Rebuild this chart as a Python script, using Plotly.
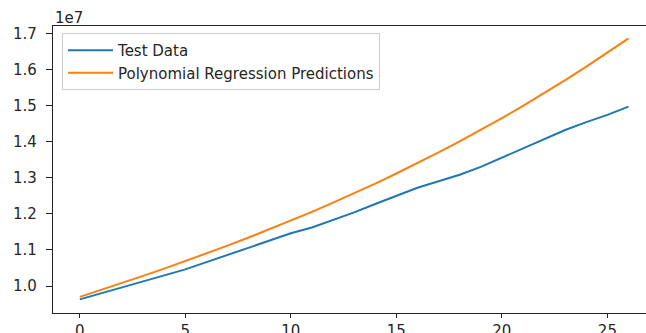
import plotly.graph_objects as go

# x positions (test sample index)
x_vals = list(range(27))

# Test Data (actual values)
test_data = [9.63e6, 9.80e6, 9.97e6, 10.12e6, 10.29e6, 10.46e6, 10.66e6, 10.86e6, 11.05e6,
             11.24e6, 11.46e6, 11.62e6, 11.82e6, 12.04e6, 12.27e6, 12.50e6, 12.72e6, 12.90e6,
             13.08e6, 13.30e6, 13.56e6, 13.82e6, 14.07e6, 14.32e6, 14.54e6, 14.74e6, 14.97e6]

# Polynomial Regression Predictions
poly_pred = [9.700e6, 9.889e6, 10.082e6, 10.279e6, 10.480e6, 10.687e6, 10.900e6, 11.118e6,
             11.342e6, 11.573e6, 11.810e6, 12.055e6, 12.308e6, 12.569e6, 12.838e6, 13.116e6,
             13.403e6, 13.700e6, 14.006e6, 14.323e6, 14.650e6, 14.989e6, 15.339e6, 15.701e6,
             16.075e6, 16.461e6, 16.860e6]

y_tick_vals = [1.0e7, 1.1e7, 1.2e7, 1.3e7, 1.4e7, 1.5e7, 1.6e7, 1.7e7]
y_tick_text = ["1.0", "1.1", "1.2", "1.3", "1.4", "1.5", "1.6", "1.7"]
x_tick_vals = [0, 5, 10, 15, 20, 25]

FONT = "DejaVu Sans"
AXIS = "#222222"
TXT = "#262626"

fig = go.Figure()
fig.add_trace(go.Scatter(x=x_vals, y=test_data, mode="lines", name="Test Data",
                         line=dict(color="#1f77b4", width=2)))
fig.add_trace(go.Scatter(x=x_vals, y=poly_pred, mode="lines",
                         name="Polynomial Regression Predictions",
                         line=dict(color="#ff7f0e", width=2)))

fig.update_layout(
    width=646, height=333,
    margin=dict(l=53, r=0, t=26, b=20),
    paper_bgcolor="white", plot_bgcolor="white",
    font=dict(family=FONT, size=15, color=TXT),
    showlegend=True,
    legend=dict(x=0.0152, y=0.9756, xanchor="left", yanchor="top",
                bgcolor="rgba(255,255,255,0.8)", bordercolor="#cccccc", borderwidth=1,
                font=dict(family=FONT, size=15, color=TXT),
                itemwidth=45, tracegroupgap=0),
    xaxis=dict(range=[-1.27, 26.83], tickmode="array", tickvals=x_tick_vals,
               showgrid=False, zeroline=False, showline=True, linecolor=AXIS, linewidth=1.3,
               mirror=True, ticks="outside", ticklen=4, tickwidth=1, tickcolor=AXIS,
               automargin=False,
               tickfont=dict(family=FONT, size=15, color=TXT)),
    yaxis=dict(range=[9.252e6, 17.202e6], tickmode="array", tickvals=y_tick_vals,
               ticktext=y_tick_text,
               showgrid=False, zeroline=False, showline=True, linecolor=AXIS, linewidth=1.3,
               ticks="outside", ticklen=6, tickwidth=1, tickcolor=AXIS,
               ticklabelstandoff=6, automargin=False,
               tickfont=dict(family=FONT, size=15, color=TXT)),
    annotations=[dict(text="1e7", xref="paper", yref="paper", x=0, y=1, xanchor="left",
                      yanchor="bottom", showarrow=False, yshift=-3,
                      font=dict(family=FONT, size=15, color=TXT))],
)

fig.write_html("out.html")
